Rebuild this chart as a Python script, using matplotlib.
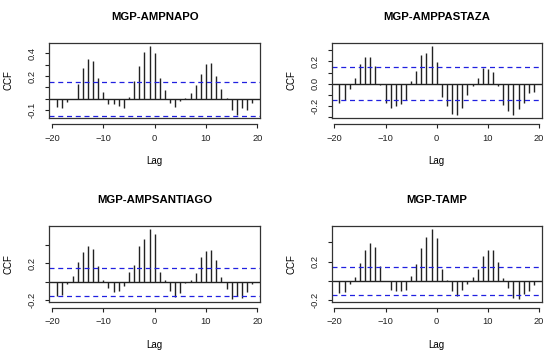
import matplotlib
matplotlib.use("Agg")
import matplotlib.pyplot as plt
import numpy as np

plt.rcParams['font.family'] = ['Liberation Sans', 'DejaVu Sans']

lags = np.arange(-19, 20)

# ccf values, lag -19 .. 19
napo = [-0.07, -0.08, -0.025, 0.0, 0.13, 0.27, 0.35, 0.33, 0.18, 0.06,
        -0.045, -0.045, -0.06, -0.08, 0.02, 0.155, 0.285, 0.41, 0.47, 0.405,
        0.185, 0.075, -0.035, -0.075, -0.015, 0.005, 0.05, 0.125, 0.22, 0.305,
        0.315, 0.2, 0.09, 0.01, -0.1, -0.14, -0.08, -0.1, -0.035]
pastaza = [-0.18, -0.15, -0.05, 0.05, 0.18, 0.245, 0.24, 0.155, -0.01, -0.18,
           -0.22, -0.2, -0.19, -0.145, 0.025, 0.115, 0.255, 0.275, 0.345, 0.195,
           -0.125, -0.2, -0.28, -0.29, -0.22, -0.1, -0.025, 0.05, 0.14, 0.135,
           0.105, -0.02, -0.195, -0.25, -0.29, -0.235, -0.18, -0.085, -0.075]
santiago = [-0.153, -0.142, -0.025, 0.065, 0.21, 0.325, 0.39, 0.355, 0.167, 0.018,
            -0.073, -0.115, -0.105, -0.05, 0.105, 0.185, 0.385, 0.47, 0.58, 0.52,
            0.105, 0.018, -0.098, -0.164, -0.127, -0.018, 0.018, 0.1, 0.265, 0.33,
            0.35, 0.236, 0.047, -0.08, -0.19, -0.16, -0.178, -0.11, -0.025]
tamp = [-0.124, -0.117, -0.03, 0.038, 0.183, 0.324, 0.39, 0.348, 0.155, 0.0,
        -0.093, -0.11, -0.11, -0.093, 0.048, 0.176, 0.345, 0.452, 0.545, 0.448,
        0.124, 0.01, -0.11, -0.152, -0.093, -0.03, 0.041, 0.124, 0.255, 0.324,
        0.324, 0.193, 0.028, -0.076, -0.176, -0.19, -0.141, -0.11, -0.041]

titles = ["MGP-AMPNAPO", "MGP-AMPPASTAZA", "MGP-AMPSANTIAGO", "MGP-TAMP"]
series = [napo, pastaza, santiago, tamp]
ci = [0.147, 0.15, 0.155, 0.147]

yticks = [[-0.1, 0.0, 0.1, 0.2, 0.3, 0.4],
          [-0.3, -0.2, -0.1, 0.0, 0.1, 0.2, 0.3],
          [-0.2, 0.0, 0.2, 0.4],
          [-0.2, 0.0, 0.2, 0.4]]
ylabels = [["-0.1", "", "", "0.2", "", "0.4"],
           ["", "-0.2", "", "0.0", "", "0.2", ""],
           ["-0.2", "", "0.2", ""],
           ["-0.2", "", "0.2", ""]]

W, H = 550, 357
# axes boxes in pixels: left, top, right, bottom
boxes = [(49.3, 42.7, 260, 118.3), (331.7, 42.7, 541.7, 118.3),
         (49.3, 225.7, 260, 302), (331.7, 225.7, 541.7, 302)]

fig = plt.figure(figsize=(5.5, 3.57), dpi=100)

for i in range(4):
    l, t, r, b = boxes[i]
    ax = fig.add_axes([l / W, 1 - b / H, (r - l) / W, (b - t) / H])
    vals = np.array(series[i])
    ax.vlines(lags, 0, vals, color='#222222', lw=1.0)
    ax.axhline(0, color='#222222', lw=1.0)
    ax.axhline(ci[i], color='#2020e0', lw=0.9, ls=(0, (4, 3)))
    ax.axhline(-ci[i], color='#2020e0', lw=0.9, ls=(0, (4, 3)))

    lo = min(vals.min(), -ci[i])
    hi = max(vals.max(), ci[i])
    pad = (hi - lo) * 0.04
    ax.set_ylim(lo - pad, hi + pad)
    ax.set_xlim(-19 - 38 * 0.04, 19 + 38 * 0.04)

    ax.set_xticks([-20, -10, 0, 10, 20])
    ax.set_yticks(yticks[i])
    ax.set_yticklabels(ylabels[i], rotation=90, va='center')
    ax.tick_params(axis='both', direction='out', length=3, width=0.8,
                   labelsize=6.7, colors='#222222')
    ax.tick_params(axis='x', pad=4)
    ax.tick_params(axis='y', pad=6)

    for s in ax.spines.values():
        s.set_linewidth(0.9)
        s.set_color('#333333')
    ax.spines['bottom'].set_position(('outward', 4))
    ax.spines['bottom'].set_bounds(-20, 20)
    ax.plot([0, 1], [0, 0], transform=ax.transAxes, color='#333333',
            lw=0.9, clip_on=False)

    ax.set_title(titles[i], fontsize=8.2, fontweight='bold', pad=16)
    ax.set_xlabel("Lag", fontsize=7, labelpad=10)
    ax.set_ylabel("CCF", fontsize=7, labelpad=10)

fig.savefig("out.png", dpi=100)
